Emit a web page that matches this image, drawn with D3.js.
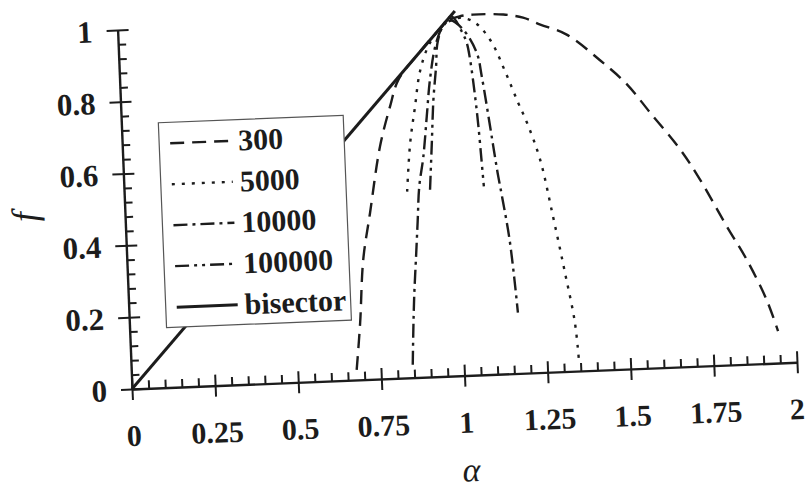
<!DOCTYPE html>
<html>
<head>
<meta charset="utf-8">
<script src="https://cdn.jsdelivr.net/npm/d3@7"></script>
<style>
  body { margin: 0; background: #fff; }
  text { font-family: "Liberation Serif", "Times New Roman", serif; fill: #1c1c1c; }
</style>
</head>
<body>
<script>
'use strict';

// values (alpha, f)
const seriesNames = ["300", "5000", "10000", "100000"];

const alpha300 = [0.677, 0.693, 0.71, 0.736, 0.774, 0.809, 0.837, 0.9, 0.96, 0.995, 1.03, 1.069, 1.16, 1.219, 1.27, 1.348, 1.445, 1.523, 1.589, 1.675, 1.731, 1.805, 1.861, 1.916, 1.947];
const f300 = [0.028, 0.158, 0.334, 0.463, 0.647, 0.757, 0.83, 0.9, 0.96, 0.99, 1.0, 1.003, 1.0, 0.989, 0.968, 0.937, 0.862, 0.792, 0.711, 0.605, 0.519, 0.387, 0.292, 0.178, 0.089];

const alpha5000 = [0.85, 0.865, 0.884, 0.903, 0.931, 0.97, 1.02, 1.069, 1.117, 1.159, 1.194, 1.218, 1.253, 1.285, 1.314, 1.338, 1.346];
const f5000 = [0.518, 0.653, 0.754, 0.851, 0.92, 0.97, 0.995, 0.984, 0.932, 0.841, 0.753, 0.697, 0.593, 0.433, 0.276, 0.135, 0.02];

const alpha10000 = [0.846, 0.852, 0.859, 0.869, 0.878, 0.887, 0.903, 0.918, 0.932, 0.952, 0.975, 1.0, 1.04, 1.076, 1.088, 1.107, 1.116, 1.124, 1.135, 1.151, 1.161, 1.168];
const f10000 = [0.036, 0.134, 0.231, 0.337, 0.434, 0.531, 0.614, 0.725, 0.827, 0.919, 0.97, 0.99, 0.96, 0.896, 0.83, 0.69, 0.62, 0.56, 0.49, 0.38, 0.27, 0.169];

const alpha100000 = [0.919, 0.93, 0.94, 0.952, 0.959, 0.98, 1.005, 1.033, 1.047, 1.055, 1.066, 1.072, 1.077, 1.081];
const f100000 = [0.521, 0.651, 0.771, 0.863, 0.928, 0.98, 1.0, 0.958, 0.925, 0.878, 0.77, 0.69, 0.6, 0.524];

const alphaBisector = [0, 1.015];
const fBisector = [0, 1.015];

const xTicks = [0, 0.25, 0.5, 0.75, 1, 1.25, 1.5, 1.75, 2];
const yTicks = [0, 0.2, 0.4, 0.6, 0.8, 1];

const dashes = ["14,8", "3,7", "14,5,3,5", "14,5,3,5,3,5"];

const svg = d3.select("body").append("svg")
  .attr("width", 806)
  .attr("height", 496);

// the scan is tilted a little, so the whole plot is turned
const plot = svg.append("g")
  .attr("transform", "translate(132,389) rotate(-2.3)");

const x = d3.scaleLinear().domain([0, 2]).range([0, 665.5]);
const y = d3.scaleLinear().domain([0, 1]).range([0, -359.3]);

// minor ticks
let xMinor = d3.range(0, 2.0001, 0.05).filter(v => Math.abs(v / 0.25 - Math.round(v / 0.25)) > 1e-6);
let yMinor = d3.range(0, 1.0001, 0.04).filter(v => Math.abs(v / 0.2 - Math.round(v / 0.2)) > 1e-6);

plot.append("g")
  .call(d3.axisBottom(x).tickValues(xMinor).tickSize(-8).tickFormat(""))
  .call(g => g.select(".domain").remove());
plot.append("g")
  .call(d3.axisRight(y).tickValues(yMinor).tickSize(8).tickFormat(""))
  .call(g => g.select(".domain").remove());

// major axes
let xAxis = plot.append("g")
  .call(d3.axisBottom(x).tickValues(xTicks).tickSizeInner(11).tickSizeOuter(0).tickFormat(d3.format("")));
xAxis.selectAll(".tick line").attr("y1", -11);
xAxis.selectAll("text")
  .attr("y", 57).attr("dy", null)
  .attr("dx", d => d === 2 ? -2 : 0)
  .style("font-size", "30px").style("font-weight", "bold");

let yAxis = plot.append("g")
  .call(d3.axisLeft(y).tickValues(yTicks).tickSizeInner(11).tickSizeOuter(0).tickPadding(14).tickFormat(d3.format("")));
yAxis.selectAll(".tick line").attr("x1", 11);
yAxis.selectAll("text")
  .attr("dy", "0.35em")
  .style("font-size", "31px").style("font-weight", "bold");

plot.selectAll(".domain, .tick line")
  .attr("stroke", "#1c1c1c")
  .attr("stroke-width", 2);
plot.selectAll(".domain").attr("stroke-width", 2.4);

// curves
const line = d3.line()
  .x(d => x(d[0]))
  .y(d => y(d[1]))
  .curve(d3.curveCatmullRom.alpha(0.5));

const series = [
  d3.zip(alpha300, f300),
  d3.zip(alpha5000, f5000),
  d3.zip(alpha10000, f10000),
  d3.zip(alpha100000, f100000)
];

plot.append("path")
  .datum(d3.zip(alphaBisector, fBisector))
  .attr("d", line)
  .attr("fill", "none")
  .attr("stroke", "#1c1c1c")
  .attr("stroke-width", 3);

series.forEach((pts, i) => {
  plot.append("path")
    .datum(pts)
    .attr("d", line)
    .attr("fill", "none")
    .attr("stroke", "#1c1c1c")
    .attr("stroke-width", 2.4)
    .attr("stroke-dasharray", dashes[i]);
});

// axis titles
plot.append("text")
  .attr("x", 336)
  .attr("y", 106)
  .attr("text-anchor", "middle")
  .style("font-size", "34px")
  .style("font-style", "italic")
  .text("α");

plot.append("text")
  .attr("transform", "translate(-99," + y(0.49) + ") rotate(-90)")
  .attr("text-anchor", "middle")
  .attr("dy", "0.3em")
  .style("font-size", "36px")
  .style("font-style", "italic")
  .text("f");

// legend
let legend = plot.append("g");
legend.append("rect")
  .attr("x", 37)
  .attr("y", -265)
  .attr("width", 185)
  .attr("height", 205)
  .attr("fill", "#fff")
  .attr("stroke", "#555")
  .attr("stroke-width", 1.2);

let legendNames = seriesNames.concat(["bisector"]);
let legendDash = dashes.concat([null]);
legendNames.forEach((name, i) => {
  let ly = -244 + i * 41;
  legend.append("line")
    .attr("x1", 48).attr("x2", 109)
    .attr("y1", ly).attr("y2", ly)
    .attr("stroke", "#1c1c1c")
    .attr("stroke-width", i === 4 ? 3 : 2.4)
    .attr("stroke-dasharray", legendDash[i]);
  legend.append("text")
    .attr("x", 116)
    .attr("y", ly)
    .attr("dy", "0.33em")
    .style("font-size", "30px")
    .style("font-weight", "bold")
    .text(name);
});
</script>
</body>
</html>
